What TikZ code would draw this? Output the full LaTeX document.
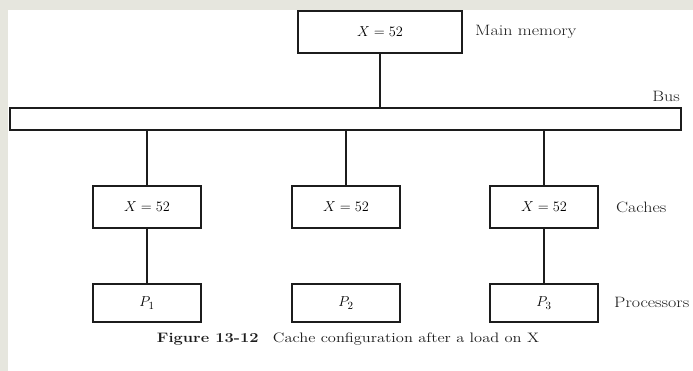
\documentclass[tikz,border=0pt]{standalone}
\usepackage{tikz}
\usepackage{graphicx}
\definecolor{framegrey}{RGB}{230,230,222}
\definecolor{ink}{RGB}{28,28,28}
\newcommand\wtxt[1]{\scalebox{1.2}[1]{#1}}
\begin{document}
\begin{tikzpicture}[x=1pt,y=-1pt,
  box/.style={draw=ink,line width=2pt,minimum width=108pt,inner sep=0pt,font=\fontsize{15}{18}\selectfont},
  cachebox/.style={box,minimum height=42pt},
  procbox/.style={box,minimum height=38pt},
  wire/.style={draw=ink,line width=2pt},
  lbl/.style={inner sep=0pt,font=\fontsize{15}{18}\selectfont,text=ink}]
\useasboundingbox (0,0) rectangle (693,371);
\fill[framegrey] (0,0) rectangle (693,371);
\fill[white] (8,10) rectangle (693,371);
\clip (0,0) rectangle (693,371);
% main memory
\node[box,minimum width=164pt,minimum height=42pt] (mm) at (380,32) {$X = 52$};
\node[lbl,anchor=west] (mmlbl) at (475,32) {\wtxt{Main memory}};
% bus
\node[draw=ink,line width=2pt,minimum width=671pt,minimum height=22pt,inner sep=0pt] (bus) at (345.5,119) {};
\node[lbl,anchor=east] (buslbl) at (680,96) {\wtxt{Bus}};
% caches
\node[cachebox] (c1) at (147,207) {$X = 52$};
\node[cachebox] (c2) at (346,207) {$X = 52$};
\node[cachebox] (c3) at (544,207) {$X = 52$};
\node[lbl,anchor=west] (clbl) at (616,207) {\wtxt{Caches}};
% processors
\node[procbox] (p1) at (147,303) {$P_1$};
\node[procbox] (p2) at (346,303) {$P_2$};
\node[procbox] (p3) at (544,303) {$P_3$};
\node[lbl,anchor=west] (plbl) at (614,302) {\wtxt{Processors}};
% connectors
\draw[wire] (mm.south) -- (mm.south |- bus.north);
\draw[wire] (c1.north |- bus.south) -- (c1.north);
\draw[wire] (c2.north |- bus.south) -- (c2.north);
\draw[wire] (c3.north |- bus.south) -- (c3.north);
\draw[wire] (c1.south) -- (p1.north);
\draw[wire] (c3.south) -- (p3.north);
% caption
\node[lbl,font=\fontsize{13.7}{17}\selectfont] (cap) at (348,339) {\wtxt{\textbf{Figure 13-12}\hspace{12pt}Cache configuration after a load on X}};
\end{tikzpicture}
\end{document}
